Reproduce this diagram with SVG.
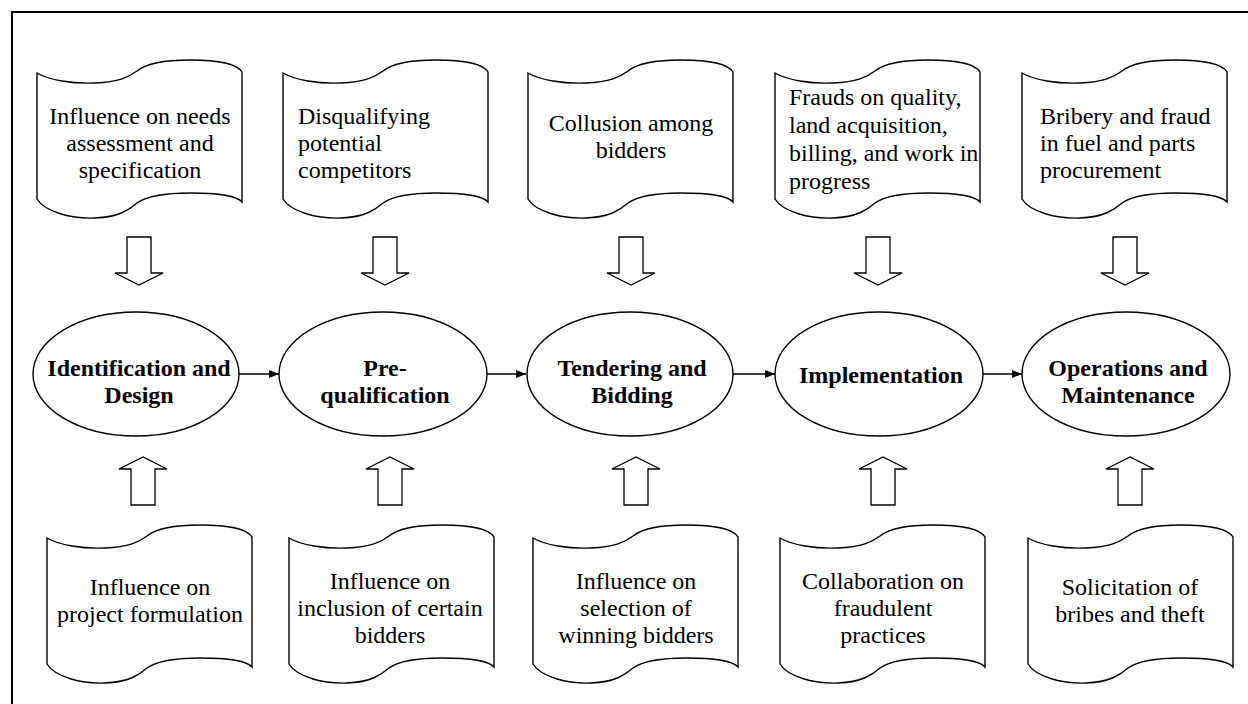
<svg xmlns="http://www.w3.org/2000/svg" width="1248" height="704" viewBox="0 0 1248 704">
<style>
.shape{fill:#fff;stroke:#000;stroke-width:1.4}
.blk{fill:#fff;stroke:#000;stroke-width:1.3}
.t{font-family:"Liberation Serif","Times New Roman",serif;font-size:24px;fill:#000}
.c{text-anchor:middle}
.b{font-weight:bold}
.conn{stroke:#000;stroke-width:1.5;fill:none}
</style>
<defs>
<path id="tape" d="M0,13 C12,20 35,24 58,23 C82,22 92,17 100,11 C110,3 128,0 153,0 C180,0 200,4 205,12 L205,142 C200,136 180,133 153,133 C128,133 110,136 100,143 C92,150 82,157 58,158 C35,159 8,152 0,139 Z"/>
<path id="down" d="M-12,0 H12 V36 H24 L0,48 L-24,36 H-12 Z"/>
<path id="up" d="M-12,48 H12 V12 H24 L0,0 L-24,12 H-12 Z"/>
<marker id="ah" markerWidth="10" markerHeight="8" refX="10" refY="4" orient="auto" markerUnits="userSpaceOnUse">
<path d="M0,0 L10,4 L0,8 Z" fill="#000"/>
</marker>
</defs>
<rect width="1248" height="704" fill="#fff"/>
<g id="border">
<path d="M12,704 V12 H1248" fill="none" stroke="#000" stroke-width="2"/>
</g>

<g id="top1">
<use href="#tape" x="37" y="60" class="shape"/>
<text class="t c" x="140" y="124">Influence on needs</text>
<text class="t c" x="140" y="151">assessment and</text>
<text class="t c" x="140" y="178">specification</text>
</g>
<g id="top2">
<use href="#tape" x="283" y="60" class="shape"/>
<text class="t" x="298" y="124">Disqualifying</text>
<text class="t" x="298" y="151">potential</text>
<text class="t" x="298" y="178">competitors</text>
</g>
<g id="top3">
<use href="#tape" x="528" y="60" class="shape"/>
<text class="t c" x="631" y="131">Collusion among</text>
<text class="t c" x="631" y="158">bidders</text>
</g>
<g id="top4">
<use href="#tape" x="775" y="60" class="shape"/>
<text class="t" x="789" y="105">Frauds on quality,</text>
<text class="t" x="789" y="133">land acquisition,</text>
<text class="t" x="789" y="161">billing, and work in</text>
<text class="t" x="789" y="189">progress</text>
</g>
<g id="top5">
<use href="#tape" x="1022" y="60" class="shape"/>
<text class="t" x="1040" y="124">Bribery and fraud</text>
<text class="t" x="1040" y="151">in fuel and parts</text>
<text class="t" x="1040" y="178">procurement</text>
</g>

<g id="downarrows">
<use href="#down" x="139" y="237" class="blk"/>
<use href="#down" x="385" y="237" class="blk"/>
<use href="#down" x="631" y="237" class="blk"/>
<use href="#down" x="878" y="237" class="blk"/>
<use href="#down" x="1125" y="237" class="blk"/>
</g>

<g id="stage1">
<ellipse cx="136" cy="374" rx="103" ry="62" class="shape"/>
<text class="t c b" x="139" y="376">Identification and</text>
<text class="t c b" x="139" y="403">Design</text>
</g>
<g id="stage2">
<ellipse cx="383" cy="374" rx="104" ry="62" class="shape"/>
<text class="t c b" x="385" y="376">Pre-</text>
<text class="t c b" x="385" y="403">qualification</text>
</g>
<g id="stage3">
<ellipse cx="630" cy="374" rx="103" ry="62" class="shape"/>
<text class="t c b" x="632" y="376">Tendering and</text>
<text class="t c b" x="632" y="403">Bidding</text>
</g>
<g id="stage4">
<ellipse cx="879" cy="374" rx="104" ry="62" class="shape"/>
<text class="t c b" x="881" y="383">Implementation</text>
</g>
<g id="stage5">
<ellipse cx="1126" cy="374" rx="104" ry="62" class="shape"/>
<text class="t c b" x="1128" y="376">Operations and</text>
<text class="t c b" x="1128" y="403">Maintenance</text>
</g>

<g id="connectors">
<line x1="239" y1="374" x2="279" y2="374" class="conn" marker-end="url(#ah)"/>
<line x1="487" y1="374" x2="526" y2="374" class="conn" marker-end="url(#ah)"/>
<line x1="733" y1="374" x2="775" y2="374" class="conn" marker-end="url(#ah)"/>
<line x1="983" y1="374" x2="1022" y2="374" class="conn" marker-end="url(#ah)"/>
</g>

<g id="uparrows">
<use href="#up" x="143" y="457" class="blk"/>
<use href="#up" x="390" y="457" class="blk"/>
<use href="#up" x="636" y="457" class="blk"/>
<use href="#up" x="883" y="457" class="blk"/>
<use href="#up" x="1130" y="457" class="blk"/>
</g>

<g id="bottom1">
<use href="#tape" x="47" y="525" class="shape"/>
<text class="t c" x="150" y="595">Influence on</text>
<text class="t c" x="150" y="622">project formulation</text>
</g>
<g id="bottom2">
<use href="#tape" x="289" y="525" class="shape"/>
<text class="t c" x="390" y="589">Influence on</text>
<text class="t c" x="390" y="616">inclusion of certain</text>
<text class="t c" x="390" y="643">bidders</text>
</g>
<g id="bottom3">
<use href="#tape" x="533" y="525" class="shape"/>
<text class="t c" x="636" y="589">Influence on</text>
<text class="t c" x="636" y="616">selection of</text>
<text class="t c" x="636" y="643">winning bidders</text>
</g>
<g id="bottom4">
<use href="#tape" x="780" y="525" class="shape"/>
<text class="t c" x="883" y="589">Collaboration on</text>
<text class="t c" x="883" y="616">fraudulent</text>
<text class="t c" x="883" y="643">practices</text>
</g>
<g id="bottom5">
<use href="#tape" x="1028" y="525" class="shape"/>
<text class="t c" x="1130" y="595">Solicitation of</text>
<text class="t c" x="1130" y="622">bribes and theft</text>
</g>
</svg>
